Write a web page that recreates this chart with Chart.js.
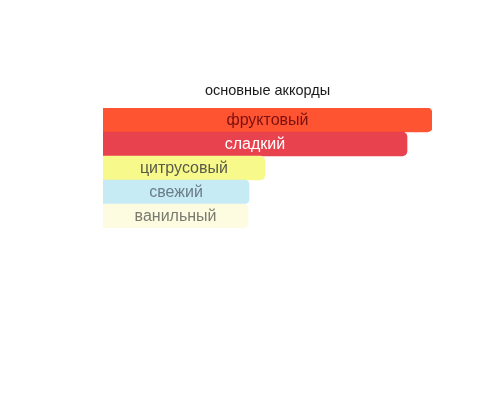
<!DOCTYPE html>
<html>
<head>
<meta charset="utf-8">
<script src="https://cdn.jsdelivr.net/npm/chart.js@4/dist/chart.umd.min.js"></script>
<style>
  html, body { margin: 0; padding: 0; background: #ffffff; }
  #wrap { width: 500px; height: 400px; position: relative; }
</style>
</head>
<body>
<div id="wrap"><canvas id="accordsChart"></canvas></div>
<script>
// main accords, strongest first
const accords = ['фруктовый', 'сладкий', 'цитрусовый', 'свежий', 'ванильный'];
const strength = [100, 92.4, 49.2, 44.4, 44.1];
const barColors = ['#fe5431', '#e8424e', '#f8f98b', '#c6ebf4', '#fdfce1'];
const labelColors = ['#7a1010', '#ffffff', '#5a5a4a', '#6b7c88', '#7a7a70'];

// writes each accord name in the middle of its bar
const barLabels = {
    id: 'barLabels',
    afterDatasetsDraw(chart) {
        const ctx = chart.ctx;
        const meta = chart.getDatasetMeta(0);
        ctx.save();
        ctx.font = '16px "Liberation Sans", Arial, sans-serif';
        ctx.textAlign = 'center';
        ctx.textBaseline = 'middle';
        meta.data.forEach((bar, i) => {
            const props = bar.getProps(['x', 'y', 'base'], true);
            ctx.fillStyle = labelColors[i];
            ctx.fillText(accords[i], (props.x + props.base) / 2, props.y + 1);
        });
        ctx.restore();
    }
};

new Chart(document.getElementById('accordsChart'), {
    type: 'bar',
    data: {
        labels: accords,
        datasets: [{
            data: strength,
            backgroundColor: barColors,
            borderWidth: 0,
            borderRadius: { topRight: 5, bottomRight: 5, topLeft: 0, bottomLeft: 0 },
            borderSkipped: false,
            categoryPercentage: 1,
            barPercentage: 1
        }]
    },
    options: {
        indexAxis: 'y',
        responsive: true,
        maintainAspectRatio: false,
        animation: false,
        layout: {
            padding: { left: 103, right: 68, top: 82, bottom: 172 }
        },
        plugins: {
            legend: { display: false },
            tooltip: { enabled: false },
            title: {
                display: true,
                text: 'основные аккорды',
                color: '#1a1a1a',
                font: { size: 14.5, family: '"Liberation Sans", Arial, sans-serif', weight: 'normal' },
                padding: { top: 0, bottom: 8.6 }
            }
        },
        scales: {
            x: { display: false, min: 0, max: 100 },
            y: { display: false }
        }
    },
    plugins: [barLabels]
});
</script>
</body>
</html>
